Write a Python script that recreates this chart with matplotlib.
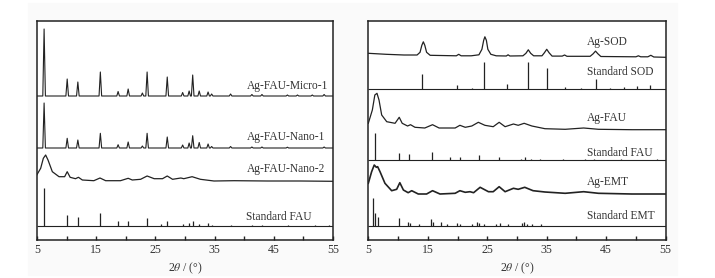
import numpy as np
from matplotlib import pyplot as plt
from matplotlib.patches import Rectangle

plt.rcParams['font.family'] = ['Liberation Serif', 'DejaVu Serif']
plt.rcParams['mathtext.fontset'] = 'stix'

# ---- left panel: Ag-FAU samples (sharp peaks: 2theta, height) ----
micro1_pos = [6.2, 10.1, 11.9, 15.7, 18.7, 20.4, 22.8, 23.6, 27.0, 29.6, 30.7, 31.3,
              32.4, 33.9, 34.5, 37.7, 41.3, 43.0, 47.3, 49.0, 51.5, 53.5]
micro1_int = [67, 17, 14, 24, 4.5, 7, 3, 24, 19, 3.5, 5, 21,
              5, 4, 2, 2, 1.5, 1.5, 1, 1, 1, 1.5]
nano1_pos = [6.2, 10.1, 11.9, 15.7, 18.7, 20.4, 22.8, 23.6, 27.0, 29.6, 30.7, 31.3,
             32.4, 33.9, 34.5, 37.7, 41.3, 43.0, 47.3, 53.5]
nano1_int = [45, 9.7, 8, 14.7, 3.3, 6, 2, 14.7, 11, 3, 5, 12.3,
             5.5, 4, 1.5, 1.5, 1, 1, 0.8, 1]

nano2_x = [4.96, 5.62, 6.07, 6.46, 6.86, 7.59, 8.72, 9.67, 10.1, 10.6, 11.5, 12.0, 12.66,
           14.6, 15.64, 16.6, 19.1, 20.4, 21.1, 22.5, 23.6, 24.8, 26.2, 27.0, 27.9, 29.3,
           29.8, 31.2, 32.6, 34.9, 38.3, 43.9, 49.5, 55.0]
nano2_y = [6, 12.7, 22.7, 26, 21, 9.3, 4.3, 4.3, 9.3, 3.7, 2.3, 3.7, 1,
           0.3, 3, 0.3, 0.3, 2.7, 1, 1.7, 5, 2.3, 2.3, 5, 1.7, 3,
           2.3, 4.3, 1.7, 0, 0.3, 0, 0, -0.3]

std_fau_pos = [6.2, 10.1, 11.9, 15.6, 18.6, 20.3, 23.6, 26.0, 27.0, 29.6, 30.7, 31.3,
               32.4, 33.9, 34.5, 37.8, 41.4, 43.0, 47.4, 52.0, 54.3]
std_fau_int = [37.7, 11, 9.3, 12.7, 5.3, 5, 7.7, 2, 5, 2, 3.3, 5,
               2, 2.7, 1.3, 1.3, 1, 1, 0.8, 0.8, 1]

# ---- right panel ----
sod_x = [5.0, 8.0, 11.0, 13.2, 13.7, 14.0, 14.25, 14.5, 14.8, 15.4, 19.8, 20.2, 20.6,
         22.3, 23.6, 24.1, 24.4, 24.6, 24.85, 25.1, 25.6, 26.5, 28.2, 28.5, 28.8, 31.0,
         31.5, 31.9, 32.3, 32.8, 34.2, 34.6, 35.0, 35.4, 35.9, 37.6, 38.0, 38.4, 42.3,
         42.8, 43.2, 43.6, 44.1, 50.0, 50.4, 50.8, 52.0, 52.5, 53.0, 55.0]
sod_y = [4, 3, 2.3, 2.3, 5, 12, 15.5, 12, 5, 2, 1.5, 3, 1.5,
         1.5, 2.5, 8, 17, 20.5, 17, 8, 3, 1.5, 1.3, 2.5, 1.3, 1.5,
         4, 7.5, 4, 1.5, 1.5, 4.5, 8, 4.5, 1.2, 1.2, 2.3, 1, 1,
         3.5, 6.2, 3.5, 0.8, 0.5, 1.5, 0.5, 0.5, 2, 0.3, 0]

std_sod_pos = [14.0, 19.9, 22.4, 24.5, 28.4, 31.9, 35.0, 38.0, 40.7, 43.2, 45.6, 48.0, 50.2, 52.4]
std_sod_int = [15, 4.3, 1, 27.7, 5.3, 27, 21, 2.7, 1, 10, 1.3, 2.7, 3.3, 4.3]

agfau_x = [5.0, 5.68, 6.1, 6.46, 6.8, 7.25, 8.1, 9.5, 10.2, 10.7, 11.6, 12.1, 12.85,
           14.5, 15.8, 16.9, 19.6, 20.4, 21.3, 22.4, 23.5, 24.6, 26.0, 27.0, 28.0, 29.4,
           30.2, 31.2, 32.5, 34.7, 38.1, 41.2, 43.7, 49.3, 55.0]
agfau_y = [6, 19.3, 34.3, 36, 29.3, 14.3, 7.6, 6, 12, 6, 3.3, 4.6, 2,
           1.3, 4.6, 1.3, 1.3, 4, 2, 3.3, 7, 4, 2.6, 7, 2.6, 5.3,
           4, 6, 3.3, 0.6, 0, 1.3, 0, -0.4, -0.4]

std_fau2_pos = [6.2, 10.1, 11.9, 15.7, 18.7, 20.4, 23.6, 27.0, 30.7, 31.3, 32.4, 33.9,
                37.8, 41.4, 43.0, 47.5, 53.5]
std_fau2_int = [26.7, 7.3, 6, 8.3, 3.3, 2.7, 5, 3.3, 1.5, 2.7, 1.5, 1.5,
                1, 0.8, 0.8, 0.6, 0.8]

emt_x = [5.0, 5.56, 6.0, 6.35, 6.57, 6.97, 7.8, 8.93, 9.77, 10.3, 10.9, 11.7, 12.3,
         13.4, 14.8, 15.8, 17.05, 19.6, 20.4, 21.3, 22.1, 22.7, 23.8, 25.2, 26.0, 27.0,
         28.0, 29.4, 30.2, 31.3, 32.7, 34.7, 38.1, 41.2, 43.7, 49.3, 55.0]
emt_y = [10, 21.6, 28.3, 26, 26.6, 21.6, 10, 2.6, 4, 10.6, 3.3, 0.6, 2.6,
         -0.7, -0.7, 2.6, -0.7, 0, 2.6, 1, 1.6, 0.6, 6, 1.6, 1.6, 6.6,
         1.6, 5, 4, 6, 2.6, 1.3, 0, 1.6, 0, -0.7, -0.7]

std_emt_pos = [5.85, 6.2, 6.6, 10.1, 11.7, 12.0, 13.5, 15.5, 15.8, 17.2, 18.3, 19.9, 20.4,
               22.4, 23.3, 23.6, 24.4, 26.5, 27.2, 28.5, 30.8, 31.2, 31.6, 32.5, 34.0]
std_emt_int = [27.3, 12.3, 9, 8, 4, 3, 1.5, 6.3, 4, 4, 2, 3, 2,
               2, 3.7, 3, 1.5, 2, 3, 1.5, 2.5, 3.7, 2, 1.5, 1.5]

ticks_major = [5, 15, 25, 35, 45, 55]
ticks_minor = [10, 20, 30, 40, 50]
line_c = '#222222'
text_c = '#333333'
fs = 8.3


def sharp_pattern(ax, pos, ints, base, hw=0.22):
    # narrow triangular peaks on a flat baseline
    xs, ys = [5.0], [base]
    for p, h in zip(pos, ints):
        xs += [p - hw, p, p + hw]
        ys += [base, base + h, base]
    xs.append(55.0)
    ys.append(base)
    ax.plot(xs, ys, color=line_c, lw=0.8)


def curve(ax, x, y, base, lw=0.9):
    ax.plot(x, np.array(y) + base, color=line_c, lw=lw)


def sticks(ax, pos, ints, base):
    ax.hlines(base, 5, 55, color=line_c, lw=0.8)
    ax.vlines(pos, base, base + np.array(ints), color=line_c, lw=0.9)


fig = plt.figure(figsize=(7.15, 2.78), dpi=100)
fig.patches.append(Rectangle((28 / 715, 3 / 278), 649 / 715, 272 / 278,
                             transform=fig.transFigure, color='#fafafa', zorder=-5))
ax1 = fig.add_axes([37 / 715, 38 / 278, 296 / 715, 219 / 278])
ax2 = fig.add_axes([368.3 / 715, 38 / 278, 297.4 / 715, 219 / 278])

sharp_pattern(ax1, micro1_pos, micro1_int, 144)
sharp_pattern(ax1, nano1_pos, nano1_int, 92)
curve(ax1, nano2_x, nano2_y, 59)
sticks(ax1, std_fau_pos, std_fau_int, 14)

ax1.text(40.4, 154, 'Ag-FAU-Micro-1', color=text_c, fontsize=fs, va='center')
ax1.text(40.4, 103, 'Ag-FAU-Nano-1', color=text_c, fontsize=fs, va='center')
ax1.text(40.4, 70.7, 'Ag-FAU-Nano-2', color=text_c, fontsize=fs, va='center')
ax1.text(40.3, 23.3, 'Standard FAU', color=text_c, fontsize=fs, va='center')

curve(ax2, sod_x, sod_y, 182.7)
sticks(ax2, std_sod_pos, std_sod_int, 150.7)
curve(ax2, agfau_x, agfau_y, 110.7)
sticks(ax2, std_fau2_pos, std_fau2_int, 80)
curve(ax2, emt_x, emt_y, 46.7, lw=1.2)
sticks(ax2, std_emt_pos, std_emt_int, 14.3)

ax2.text(41.8, 198.3, 'Ag-SOD', color=text_c, fontsize=fs, va='center')
ax2.text(41.8, 168.3, 'Standard SOD', color=text_c, fontsize=fs, va='center')
ax2.text(41.8, 121.7, 'Ag-FAU', color=text_c, fontsize=fs, va='center')
ax2.text(41.8, 87.3, 'Standard FAU', color=text_c, fontsize=fs, va='center')
ax2.text(41.8, 58.3, 'Ag-EMT', color=text_c, fontsize=fs, va='center')
ax2.text(41.8, 24, 'Standard EMT', color=text_c, fontsize=fs, va='center')

for ax in (ax1, ax2):
    ax.set_xlim(5, 55)
    ax.set_ylim(0, 219)
    ax.set_yticks([])
    ax.set_xticks(ticks_major)
    ax.set_xticks(ticks_minor, minor=True)
    ax.tick_params(axis='x', which='both', direction='in', length=3, width=1,
                   pad=3, labelsize=8.5, labelcolor=text_c, color=line_c)
    for s in ax.spines.values():
        s.set_linewidth(1.1)
        s.set_color(line_c)
    ax.set_xlabel(r'2$\theta$ / (°)', fontsize=8.5, color=text_c, labelpad=3)

fig.savefig('out.png', dpi=100)
